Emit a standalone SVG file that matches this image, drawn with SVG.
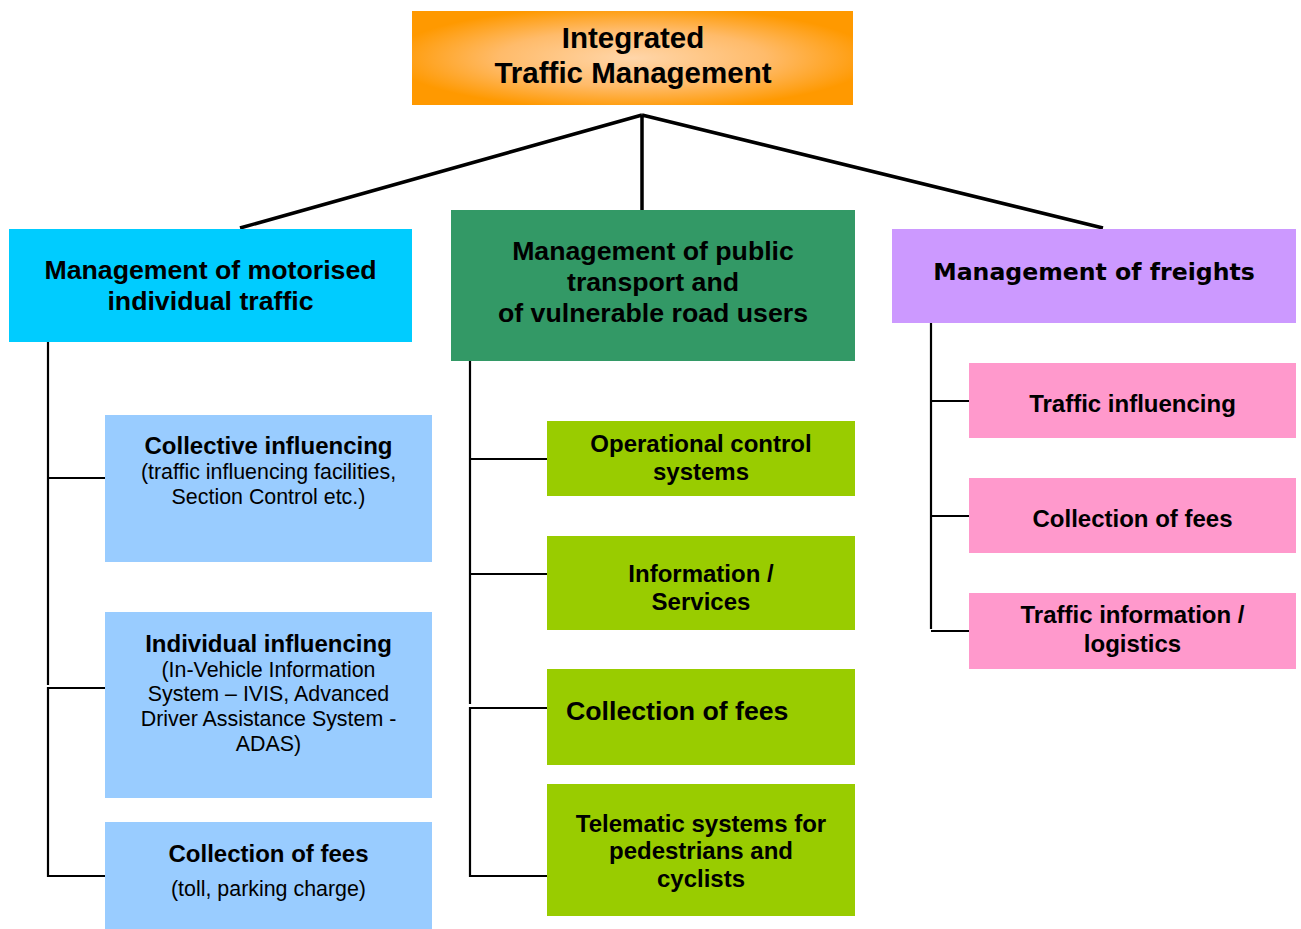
<svg xmlns="http://www.w3.org/2000/svg" width="1301" height="929" viewBox="0 0 1301 929">
<style>
text{font-family:"Liberation Sans",Arial,sans-serif;fill:#000;text-anchor:middle}
.b{font-weight:bold}
.h1{font-size:29.5px;font-weight:bold}
.h2{font-size:26.7px;font-weight:bold}
.hf{font-family:"DejaVu Sans",Verdana,sans-serif;font-size:23.6px;font-weight:bold}
.t{font-size:24px;font-weight:bold}
.r{font-size:21.4px}
.main{stroke:#000;stroke-width:3.5;fill:none}
.tree{stroke:#000;stroke-width:2.2;fill:none}
</style>
<defs>
<radialGradient id="og" cx="50%" cy="50%" r="55%">
<stop offset="0" stop-color="#FFD6AA"/>
<stop offset="0.55" stop-color="#FFBB6A"/>
<stop offset="1" stop-color="#FF9900"/>
</radialGradient>
</defs>
<rect width="1301" height="929" fill="#fff"/>
<g id="connectors">
<path class="main" d="M642,115 L240,228 M642,115 L642,210 M642,115 L1103,228"/>
<path class="tree" d="M48,342 V685 M48,478 H105 M105,688 H48 V876 H105"/>
<path class="tree" d="M470,361 V704 M470,459 H547 M470,574 H547 M547,708 H470 V876 H547"/>
<path class="tree" d="M931,323 V629 M931,401 H969 M931,516 H969 M931,631 H969"/>
</g>
<g id="root">
<rect x="412" y="11" width="441" height="94" fill="url(#og)"/>
<text class="h1" x="633" y="48">Integrated</text>
<text class="h1" x="633" y="83">Traffic Management</text>
</g>
<g id="motorised">
<rect x="9" y="229" width="403" height="113" fill="#00CCFF"/>
<text class="h2" x="210.5" y="279">Management of motorised</text>
<text class="h2" x="210.5" y="310">individual traffic</text>
</g>
<g id="public">
<rect x="451" y="210" width="404" height="151" fill="#339966"/>
<text class="h2" x="653" y="260">Management of public</text>
<text class="h2" x="653" y="291">transport and</text>
<text class="h2" x="653" y="322">of vulnerable road users</text>
</g>
<g id="freights">
<rect x="892" y="229" width="404" height="94" fill="#CC99FF"/>
<text class="hf" x="1094" y="280">Management of freights</text>
</g>
<g id="collective">
<rect x="105" y="415" width="327" height="147" fill="#99CCFF"/>
<text class="t" x="268.5" y="454">Collective influencing</text>
<text class="r" x="268.5" y="479">(traffic influencing facilities,</text>
<text class="r" x="268.5" y="504">Section Control etc.)</text>
</g>
<g id="individual">
<rect x="105" y="612" width="327" height="186" fill="#99CCFF"/>
<text class="t" x="268.5" y="652">Individual influencing</text>
<text class="r" x="268.5" y="677">(In-Vehicle Information</text>
<text class="r" x="268.5" y="701">System – IVIS, Advanced</text>
<text class="r" x="268.5" y="726">Driver Assistance System -</text>
<text class="r" x="268.5" y="751">ADAS)</text>
</g>
<g id="fees-left">
<rect x="105" y="822" width="327" height="107" fill="#99CCFF"/>
<text class="t" x="268.5" y="862">Collection of fees</text>
<text class="r" x="268.5" y="896">(toll, parking charge)</text>
</g>
<g id="operational">
<rect x="547" y="421" width="308" height="75" fill="#99CC00"/>
<text class="t" x="701" y="452">Operational control</text>
<text class="t" x="701" y="480">systems</text>
</g>
<g id="information">
<rect x="547" y="536" width="308" height="94" fill="#99CC00"/>
<text class="t" x="701" y="582">Information /</text>
<text class="t" x="701" y="610">Services</text>
</g>
<g id="fees-mid">
<rect x="547" y="669" width="308" height="96" fill="#99CC00"/>
<text class="h2" x="566" y="720" style="text-anchor:start">Collection of fees</text>
</g>
<g id="telematic">
<rect x="547" y="784" width="308" height="132" fill="#99CC00"/>
<text class="t" x="701" y="832">Telematic systems for</text>
<text class="t" x="701" y="859">pedestrians and</text>
<text class="t" x="701" y="887">cyclists</text>
</g>
<g id="traffic-influencing">
<rect x="969" y="363" width="327" height="75" fill="#FF99CC"/>
<text class="t" x="1132.5" y="412">Traffic influencing</text>
</g>
<g id="fees-right">
<rect x="969" y="478" width="327" height="75" fill="#FF99CC"/>
<text class="t" x="1132.5" y="527">Collection of fees</text>
</g>
<g id="logistics">
<rect x="969" y="593" width="327" height="76" fill="#FF99CC"/>
<text class="t" x="1132.5" y="623">Traffic information /</text>
<text class="t" x="1132.5" y="652">logistics</text>
</g>
</svg>
